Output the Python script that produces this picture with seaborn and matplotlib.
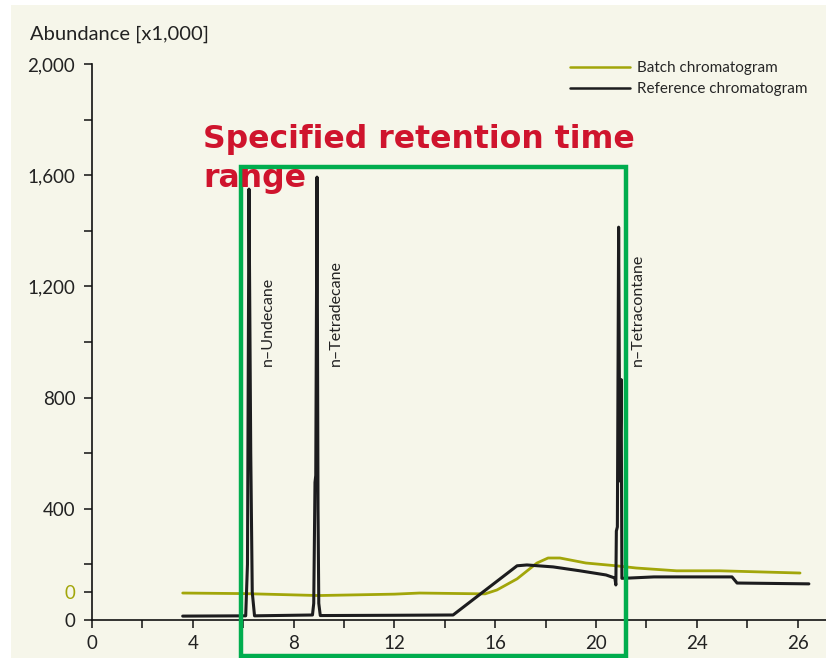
import numpy as np
import pandas as pd
import matplotlib
matplotlib.use("Agg")
import matplotlib.pyplot as plt
from matplotlib.patches import Rectangle
from matplotlib.lines import Line2D
import seaborn as sns

# ---- data (x in axis units; the last tick label reads "26") ----
ref_time = [3.6, 6.1, 6.17, 6.23, 6.3, 6.36, 6.45, 8.75, 8.8, 8.85, 8.88, 8.93, 8.97, 9.0, 9.06,
            12.0, 14.33, 16.87, 17.26, 18.3, 19.36, 20.4, 20.75, 20.79, 20.81, 20.85, 20.9,
            20.95, 21.0, 21.03, 21.35, 22.3, 25.4, 25.6, 28.45]
ref_abund = [14, 15, 200, 1550, 600, 100, 15, 18, 60, 495, 520, 1593, 400, 60, 16,
             17, 18, 195, 198, 191, 177, 162, 151, 126, 320, 335, 1413,
             500, 865, 150, 151, 155, 155, 133, 130]

batch_time = [3.6, 6.0, 9.0, 12.0, 13.0, 15.6, 16.07, 16.87, 17.66, 18.1, 18.57, 19.6,
              20.8, 21.6, 23.2, 24.9, 28.1]
batch_abund = [97, 95, 88, 93, 97, 94, 108, 148, 205, 223, 223, 205,
               195, 187, 177, 177, 169]

x_major = [0, 4, 8, 12, 16, 20, 24, 28]
x_major_labels = ["0", "4", "8", "12", "16", "20", "24", "26"]
x_minor = [2, 6, 10, 14, 18, 22, 26]
y_major = [0, 400, 800, 1200, 1600, 2000]
y_major_labels = ["0", "400", "800", "1,200", "1,600", "2,000"]
y_minor = [200, 600, 1000, 1400, 1800]
batch_zero = 100

peaks = ["n\u2013Undecane", "n\u2013Tetradecane", "n\u2013Tetracontane"]
peak_label_x = [6.98, 9.68, 21.67]
range_start, range_end = 5.91, 21.2

BG = "#f6f6ea"
OLIVE = "#a2a60a"
BLACK = "#1c1c1e"
GREEN = "#00ad4e"
RED = "#cf142d"

sns.set_theme(style="ticks")
plt.rcParams["font.family"] = ["Lato", "DejaVu Sans"]

fig = plt.figure(figsize=(8.26, 6.58), dpi=100)
fig.patch.set_facecolor("white")
fig.patches.append(Rectangle((11 / 826, 0), 1, 1 - 5 / 658, transform=fig.transFigure,
                             facecolor=BG, edgecolor="none", zorder=-10))
ax = fig.add_axes([92 / 826, 38 / 658, 1 - 92 / 826, (620 - 64) / 658])
ax.set_facecolor(BG)

df_ref = pd.DataFrame({"t": ref_time, "a": ref_abund})
df_batch = pd.DataFrame({"t": batch_time, "a": batch_abund})
sns.lineplot(data=df_batch, x="t", y="a", sort=False, color=OLIVE, lw=2.0, ax=ax, zorder=3)
sns.lineplot(data=df_ref, x="t", y="a", sort=False, color=BLACK, lw=2.2, ax=ax, zorder=4)

ax.set_xlim(0, 29.13)
ax.set_ylim(0, 2000)
ax.set_xlabel("")
ax.set_ylabel("")
for s in ["top", "right"]:
    ax.spines[s].set_visible(False)
for s in ["left", "bottom"]:
    ax.spines[s].set_color("#111111")
    ax.spines[s].set_linewidth(1.2)

ax.set_xticks(x_major)
ax.set_xticklabels(x_major_labels)
ax.set_xticks(x_minor, minor=True)
ax.set_yticks(y_major + [batch_zero])
ax.set_yticklabels(y_major_labels + ["0"])
ax.set_yticks(y_minor, minor=True)
ax.tick_params(axis="both", which="both", direction="out", length=6, width=1.1,
               color="#111111", labelsize=13.5, labelcolor="#222222", pad=5)
ax.tick_params(axis="y", pad=6)
ax.get_yticklabels()[-1].set_color(OLIVE)
ax.get_yticklines()[-2].set_color(OLIVE)

# specified range box
ax.add_patch(Rectangle((range_start, -130), range_end - range_start, 1760, fill=False,
                       edgecolor=GREEN, lw=3.2, clip_on=False, zorder=6))

for name, px in zip(peaks, peak_label_x):
    ax.text(px, 912, name, rotation=90, ha="center", va="bottom", fontsize=11.5,
            color="#222222", zorder=7)

fig.text(203 / 826, 1 - 148 / 658, "Specified retention time", ha="left", va="baseline",
         fontsize=22.7, fontweight="bold", color=RED, family=["DejaVu Sans"], zorder=8)
fig.text(203 / 826, 1 - 187 / 658, "range", ha="left", va="baseline",
         fontsize=22.7, fontweight="bold", color=RED, family=["DejaVu Sans"], zorder=8)

fig.text(30 / 826, 1 - 34 / 658, "Abundance [x1,000]", ha="left", va="center",
         fontsize=14.5, color="#222222")

handles = [Line2D([], [], color=OLIVE, lw=1.8), Line2D([], [], color=BLACK, lw=1.8)]
leg = fig.legend(handles, ["Batch chromatogram", "Reference chromatogram"],
                 loc="upper left", bbox_to_anchor=(570 / 826, 1 - 61 / 658),
                 frameon=False, fontsize=11, handlelength=3.9, handletextpad=0.5,
                 labelspacing=0.45, borderpad=0, borderaxespad=0)

fig.savefig("out.png", dpi=100, facecolor=fig.get_facecolor())
